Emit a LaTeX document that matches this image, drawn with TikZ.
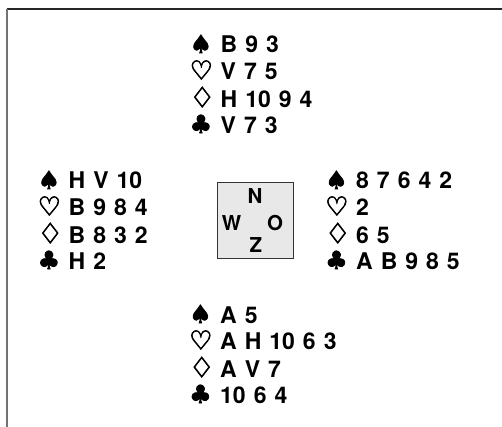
\documentclass[tikz,border=0pt]{standalone}
\usepackage{fontspec}
\setmainfont{TeX Gyre Heros}[WordSpace=1.25]
\newfontfamily\suitfont{DejaVu Sans}[FakeBold=3]
\newcommand\st[2][25]{\makebox[31pt][l]{\suitfont\fontsize{#1}{25}\selectfont #2}}
\newcommand\handtab[4]{\begin{tabular}[t]{@{}l@{}}\st{♠}#1\\\st[26]{♡}#2\\\st[28]{♢}#3\\\st{♣}#4\end{tabular}}
\tikzset{
  hand/.style={inner sep=0pt, anchor=base west, font=\bfseries\fontsize{23}{25}\selectfont},
  dirl/.style={inner sep=0pt, anchor=base, font=\bfseries\fontsize{20.5}{24}\selectfont},
  tablebox/.style={draw=black!80, fill=black!9, minimum size=76pt, inner sep=0pt, line width=0.8pt}
}
\begin{document}
\begin{tikzpicture}[x=1pt,y=-1pt]
\useasboundingbox (0,0) rectangle (502,427);
\coordinate (tl) at (6.5,9);
\coordinate (tr) at (502,9);
\coordinate (bl) at (6.5,427);
\draw[line width=1.5pt, draw=black!85] (tl) -- (tr);
\draw[line width=2pt, draw=black!55] (tl) -- (bl);
\node[hand] (north) at (189.5,53) {\handtab{B 9 3}{V 7 5}{H 10 9 4}{V 7 3}};
\node[hand] (west) at (37.5,189) {\handtab{H V 10}{B 9 8 4}{B 8 3 2}{H 2}};
\node[hand] (east) at (325,189) {\handtab{8 7 6 4 2}{2}{6 5}{A B 9 8 5}};
\node[hand] (south) at (189,323) {\handtab{A 5}{A H 10 6 3}{A V 7}{10 6 4}};
\node[tablebox] (table) at (255,220) {};
\node[dirl] (n) at (255,204) {N};
\node[dirl] (w) at (231.5,230.5) {W};
\node[dirl] (o) at (275,230.5) {O};
\node[dirl] (z) at (256,252) {Z};
\end{tikzpicture}
\end{document}
